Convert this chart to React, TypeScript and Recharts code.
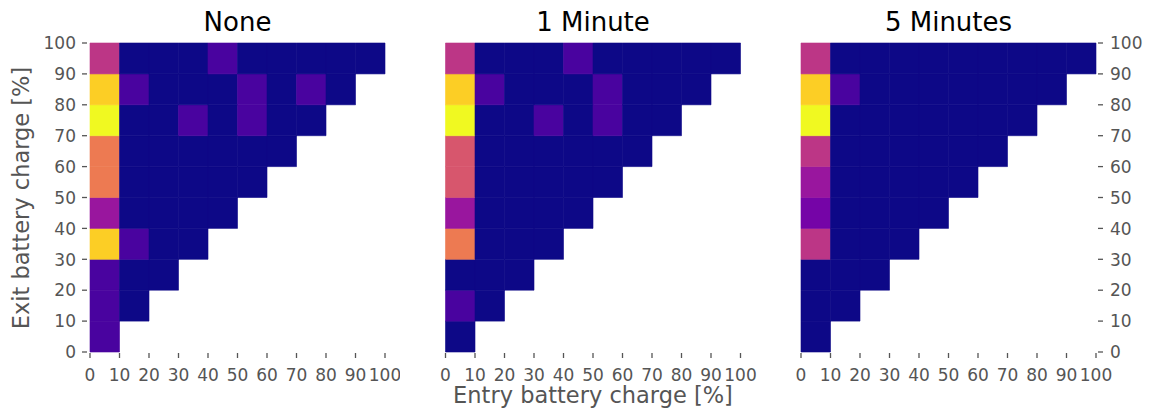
import React from 'react';
import { ScatterChart, Scatter, XAxis, YAxis, ReferenceArea } from 'recharts';

// Axis ticks (battery charge, %)
const tickValues = [0, 10, 20, 30, 40, 50, 60, 70, 80, 90, 100];
const binSize = 10;
const panelTitles = ['None', '1 Minute', '5 Minutes'];
const xLabel = 'Entry battery charge [%]';
const yLabel = 'Exit battery charge [%]';

// Relative frequency (colour-map position 0..1).
// Row r = exit-charge bin (r*10 .. r*10+10), column c = entry-charge bin (c*10 .. c*10+10)
const noneRows: number[][] = [
  [0.12],
  [0.12, 0],
  [0.12, 0, 0],
  [0.9, 0.12, 0, 0],
  [0.33, 0, 0, 0, 0],
  [0.67, 0, 0, 0, 0, 0],
  [0.67, 0, 0, 0, 0, 0, 0],
  [1.0, 0, 0, 0.12, 0, 0.12, 0, 0],
  [0.9, 0.12, 0, 0, 0, 0.12, 0, 0.12, 0],
  [0.44, 0, 0, 0, 0.12, 0, 0, 0, 0, 0],
];

const oneMinuteRows: number[][] = [
  [0],
  [0.12, 0],
  [0, 0, 0],
  [0.67, 0, 0, 0],
  [0.33, 0, 0, 0, 0],
  [0.55, 0, 0, 0, 0, 0],
  [0.55, 0, 0, 0, 0, 0, 0],
  [1.0, 0, 0, 0.12, 0, 0.12, 0, 0],
  [0.9, 0.12, 0, 0, 0, 0.12, 0, 0, 0],
  [0.44, 0, 0, 0, 0.12, 0, 0, 0, 0, 0],
];

const fiveMinuteRows: number[][] = [
  [0],
  [0, 0],
  [0, 0, 0],
  [0.44, 0, 0, 0],
  [0.23, 0, 0, 0, 0],
  [0.33, 0, 0, 0, 0, 0],
  [0.44, 0, 0, 0, 0, 0, 0],
  [1.0, 0, 0, 0, 0, 0, 0, 0],
  [0.9, 0.12, 0, 0, 0, 0, 0, 0, 0],
  [0.44, 0, 0, 0, 0, 0, 0, 0, 0, 0],
];

const panelRows = [noneRows, oneMinuteRows, fiveMinuteRows];

// plasma colour map
const plasmaStops = [
  '#0d0887', '#41049d', '#6a00a8', '#8f0da4', '#b12a90', '#cc4778',
  '#e16462', '#f2844b', '#fca636', '#fcce25', '#f0f921',
];

function hexToRgb(h: string) {
  return [parseInt(h.slice(1, 3), 16), parseInt(h.slice(3, 5), 16), parseInt(h.slice(5, 7), 16)];
}

function plasma(v: number) {
  const t = Math.max(0, Math.min(1, v)) * (plasmaStops.length - 1);
  const i = Math.min(Math.floor(t), plasmaStops.length - 2);
  const f = t - i;
  const a = hexToRgb(plasmaStops[i]);
  const b = hexToRgb(plasmaStops[i + 1]);
  const c = a.map((av, k) => Math.round(av + (b[k] - av) * f));
  return `rgb(${c[0]},${c[1]},${c[2]})`;
}

type Cell = { x1: number; x2: number; y1: number; y2: number; cx: number; cy: number; color: string };

function buildCells(rows: number[][]): Cell[] {
  const out: Cell[] = [];
  rows.forEach((row, r) => {
    row.forEach((v, c) => {
      const x1 = c * binSize;
      const y1 = r * binSize;
      out.push({ x1, x2: x1 + binSize, y1, y2: y1 + binSize, cx: x1 + binSize / 2, cy: y1 + binSize / 2, color: plasma(v) });
    });
  });
  return out;
}

const FONT = 'DejaVu Sans, sans-serif';
const TICK_COLOR = '#555555';

const XTick = (props: any) => {
  const { x, y, payload } = props;
  return (
    <g>
      <line x1={x} x2={x} y1={y + 1} y2={y + 6} stroke={TICK_COLOR} strokeWidth={1.3} />
      <text x={x} y={y + 29} textAnchor="middle" fill={TICK_COLOR} fontSize={17} fontFamily={FONT}>
        {payload.value}
      </text>
    </g>
  );
};

const YTickLeft = (props: any) => {
  const { x, y, payload } = props;
  return (
    <g>
      <line x1={x - 8} x2={x - 3} y1={y} y2={y} stroke={TICK_COLOR} strokeWidth={1.3} />
      <text x={x - 14} y={y + 6.2} textAnchor="end" fill={TICK_COLOR} fontSize={17} fontFamily={FONT}>
        {payload.value}
      </text>
    </g>
  );
};

const YTickRight = (props: any) => {
  const { x, y, payload } = props;
  return (
    <g>
      <line x1={x + 2} x2={x + 7} y1={y} y2={y} stroke={TICK_COLOR} strokeWidth={1.3} />
      <text x={x + 14} y={y + 6.2} textAnchor="start" fill={TICK_COLOR} fontSize={17} fontFamily={FONT}>
        {payload.value}
      </text>
    </g>
  );
};

type PanelProps = { idx: number; left: number; width: number; margin: any; yMode: 'left' | 'none' | 'right' };

const Panel = ({ idx, left, width, margin, yMode }: PanelProps) => {
  const cells = buildCells(panelRows[idx]);
  return (
    <div style={{ position: 'absolute', left, top: 0 }}>
      <ScatterChart width={width} height={417} margin={margin}>
        <XAxis
          type="number"
          dataKey="cx"
          domain={[0, 100]}
          ticks={tickValues}
          interval={0}
          allowDataOverflow
          axisLine={false}
          tickLine={false}
          tickSize={0}
          tickMargin={0}
          height={40}
          tick={<XTick />}
        />
        <YAxis
          type="number"
          dataKey="cy"
          domain={[0, 100]}
          ticks={tickValues}
          interval={0}
          allowDataOverflow
          axisLine={false}
          tickLine={false}
          tickSize={0}
          tickMargin={0}
          orientation={yMode === 'right' ? 'right' : 'left'}
          hide={yMode === 'none'}
          width={yMode === 'none' ? 0 : 50}
          tick={yMode === 'right' ? <YTickRight /> : <YTickLeft />}
        />
        {cells.map((c, i) => (
          <ReferenceArea
            key={i}
            x1={c.x1}
            x2={c.x2}
            y1={c.y1}
            y2={c.y2}
            fill={c.color}
            fillOpacity={1}
            stroke={c.color}
            strokeWidth={0.6}
            ifOverflow="visible"
          />
        ))}
        <Scatter data={cells} isAnimationActive={false} shape={() => <g />} />
      </ScatterChart>
    </div>
  );
};

export default function App() {
  return (
    <div style={{ position: 'absolute', left: 0, top: 0, width: 1150, height: 417, background: '#fff', overflow: 'hidden' }}>
      <Panel idx={0} left={0} width={400} margin={{ top: 43, right: 15, bottom: 25, left: 40 }} yMode="left" />
      <Panel idx={1} left={400} width={400} margin={{ top: 43, right: 59.5, bottom: 25, left: 45.5 }} yMode="none" />
      <Panel idx={2} left={770} width={380} margin={{ top: 43, right: 4, bottom: 25, left: 31 }} yMode="right" />
      <svg width={1150} height={417} style={{ position: 'absolute', left: 0, top: 0, pointerEvents: 'none' }}>
        <text x={237.5} y={31} textAnchor="middle" fontSize={26} fontFamily={FONT} fill="#000">{panelTitles[0]}</text>
        <text x={593} y={31} textAnchor="middle" fontSize={26} fontFamily={FONT} fill="#000">{panelTitles[1]}</text>
        <text x={948.5} y={31} textAnchor="middle" fontSize={26} fontFamily={FONT} fill="#000">{panelTitles[2]}</text>
        <text x={593} y={403} textAnchor="middle" fontSize={22.5} fontFamily={FONT} fill={TICK_COLOR}>{xLabel}</text>
        <text x={0} y={0} transform="translate(28.5,198) rotate(-90)" textAnchor="middle" fontSize={22.5} fontFamily={FONT} fill={TICK_COLOR}>{yLabel}</text>
      </svg>
    </div>
  );
}
